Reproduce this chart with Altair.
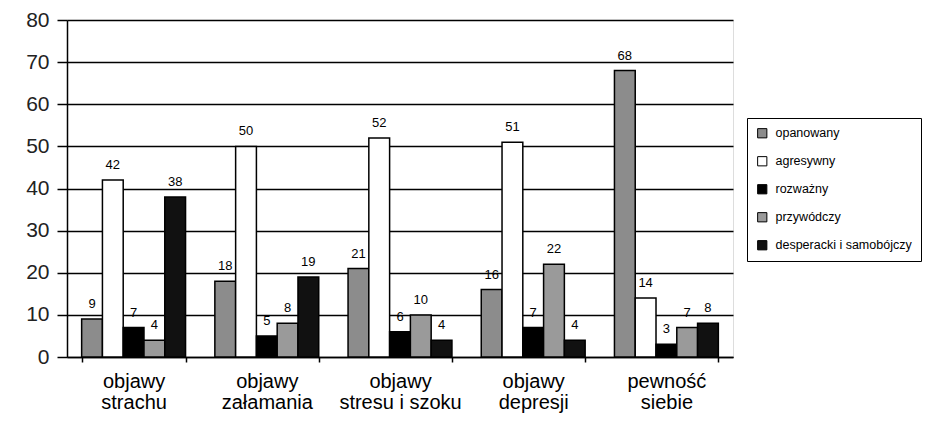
import altair as alt
import pandas as pd

categories = ["objawy strachu", "objawy załamania", "objawy stresu i szoku", "objawy depresji", "pewność siebie"]
cat_lines = ["objawy|strachu", "objawy|załamania", "objawy|stresu i szoku", "objawy|depresji", "pewność|siebie"]
series = ["opanowany", "agresywny", "rozważny", "przywódczy", "desperacki i samobójczy"]
values = {
    "opanowany": [9, 18, 21, 16, 68],
    "agresywny": [42, 50, 52, 51, 14],
    "rozważny": [7, 5, 6, 7, 3],
    "przywódczy": [4, 8, 10, 22, 7],
    "desperacki i samobójczy": [38, 19, 4, 4, 8],
}
colors = ["#8c8c8c", "#ffffff", "#000000", "#9a9a9a", "#111111"]

rows = []
for s in series:
    for c, v in zip(cat_lines, values[s]):
        rows.append({"kategoria": c, "seria": s, "wartosc": v})
df = pd.DataFrame(rows)

x = alt.X("kategoria:N", sort=cat_lines, title=None,
          scale=alt.Scale(paddingInner=0.22, paddingOuter=0.11),
          axis=alt.Axis(labelExpr="split(datum.label, '|')", labelAngle=0, ticks=True,
                        tickBand="extent", tickSize=5, tickColor="black", tickWidth=1.5,
                        domain=True, domainColor="black", domainWidth=1.5,
                        labelFontSize=20, labelFont="Liberation Sans",
                        labelColor="black", labelPadding=9, labelLineHeight=21))
xo = alt.XOffset("seria:N", sort=series, scale=alt.Scale(paddingInner=0))
y = alt.Y("wartosc:Q", title=None,
          scale=alt.Scale(domain=[0, 80], nice=False),
          axis=alt.Axis(values=list(range(0, 81, 10)), grid=True, gridColor="black",
                        gridWidth=1.5, gridOpacity=1, tickColor="black", tickSize=10,
                        tickWidth=1.5, domainColor="black", domainWidth=1.5,
                        labelFontSize=21, labelFont="Liberation Sans", labelColor="#222",
                        labelPadding=8))

bars = alt.Chart(df).mark_bar(stroke="black", strokeWidth=1.5).encode(
    x=x, xOffset=xo, y=y,
    color=alt.Color("seria:N", sort=series, title=None,
                    scale=alt.Scale(domain=series, range=colors),
                    legend=alt.Legend(orient="none", legendX=680, legendY=98,
                                      symbolType="square", symbolSize=85,
                                      symbolStrokeColor="black", symbolStrokeWidth=1,
                                      labelFontSize=12.5, labelFont="Liberation Sans",
                                      labelColor="black", rowPadding=14, labelOffset=7,
                                      strokeColor="black", padding=9,
                                      symbolOpacity=1, labelLimit=300)),
)

labels = alt.Chart(df).mark_text(dy=-8, baseline="bottom", fontSize=13,
                                 font="Liberation Sans", color="black").encode(
    x=alt.X("kategoria:N", sort=cat_lines),
    xOffset=alt.XOffset("seria:N", sort=series),
    y=alt.Y("wartosc:Q"),
    text="wartosc:Q",
)

chart = alt.layer(bars, labels).properties(
    width=666, height=337,
    autosize=alt.AutoSizeParams(type="none"),
    padding={"left": 59, "top": 12, "right": 193, "bottom": 58},
).configure_view(stroke=None).configure(background="white")

chart.save("out.html", embed_options={"renderer": "svg", "actions": False})
